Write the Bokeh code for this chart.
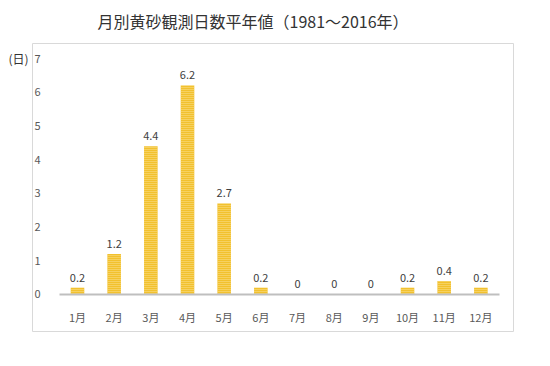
from bokeh.plotting import figure
from bokeh.models import ColumnDataSource, Range1d, FixedTicker, LinearAxis
from bokeh.core.properties import value
from bokeh.embed import file_html
from bokeh.resources import INLINE

# ---- data ----
months = ["1月", "2月", "3月", "4月", "5月", "6月", "7月", "8月", "9月", "10月", "11月", "12月"]
month_num = [1, 2, 3, 4, 5, 6, 7, 8, 9, 10, 11, 12]
days = [0.2, 1.2, 4.4, 6.2, 2.7, 0.2, 0, 0, 0, 0.2, 0.4, 0.2]
y_ticks = [0, 1, 2, 3, 4, 5, 6, 7]
title_text = "月別黄砂観測日数平年値（1981～2016年）"
unit_text = "(日)"
unit_tick = [7]

labels = [("%g" % v) for v in days]
src = ColumnDataSource(dict(x=month_num, top=days, label=labels))

FONT = "Noto Sans CJK JP"

p = figure(width=542, height=358, output_backend="svg", toolbar_location=None,
           x_range=Range1d(-0.227, 12.89), y_range=Range1d(-1.098, 7.445),
           min_border_left=32, min_border_right=29, min_border_top=43, min_border_bottom=27)

p.title.text = title_text
p.title.align = "left"
p.title.vertical_align = "top"
p.title.offset = 65
p.title.standoff = 17
p.title.text_font = FONT
p.title.text_font_size = "16px"
p.title.text_font_style = "normal"
p.title.text_color = "#333333"

p.outline_line_color = "#d9d9d9"
p.outline_line_width = 1
p.xgrid.visible = False
p.ygrid.visible = False
p.background_fill_color = "white"
p.border_fill_color = "white"

p.vbar(x="x", top="top", bottom=0, width=0.37, source=src,
       fill_color="#F2C12E", line_color=None,
       hatch_pattern="horizontal_line", hatch_color="#FBE192",
       hatch_scale=2, hatch_weight=1)

p.text(x="x", y="top", text="label", source=src, text_align="center",
       text_baseline="bottom", y_offset=-6, text_font=value(FONT),
       text_font_size="11px", text_color="#404040")

# x axis
xa = p.xaxis[0]
xa.fixed_location = 0
xa.bounds = (0.5, 12.5)
xa.ticker = FixedTicker(ticks=month_num)
xa.major_label_overrides = {m: lab for m, lab in zip(month_num, months)}
xa.axis_line_color = "#bfbfbf"
xa.axis_line_width = 2
xa.major_tick_line_color = None
xa.minor_tick_line_color = None
xa.major_label_standoff = 9
xa.major_label_text_font = FONT
xa.major_label_text_font_size = "11px"
xa.major_label_text_color = "#595959"

# y axis
ya = p.yaxis[0]
ya.fixed_location = 0.318
ya.ticker = FixedTicker(ticks=y_ticks)
ya.axis_line_color = None
ya.major_tick_line_color = None
ya.minor_tick_line_color = None
ya.major_label_standoff = 6
ya.major_label_text_font = FONT
ya.major_label_text_font_size = "11px"
ya.major_label_text_color = "#595959"

# unit text shown as the single tick label of an outer left axis, at the top value
ua = LinearAxis(ticker=FixedTicker(ticks=unit_tick),
                major_label_overrides={unit_tick[0]: unit_text},
                axis_line_color=None, major_tick_line_color=None,
                minor_tick_line_color=None, major_tick_out=0, major_tick_in=0,
                major_label_standoff=4,
                major_label_text_font=FONT, major_label_text_font_size="12px",
                major_label_text_color="#333333")
p.add_layout(ua, "left")

open("out.html", "w").write(file_html(p, INLINE))
